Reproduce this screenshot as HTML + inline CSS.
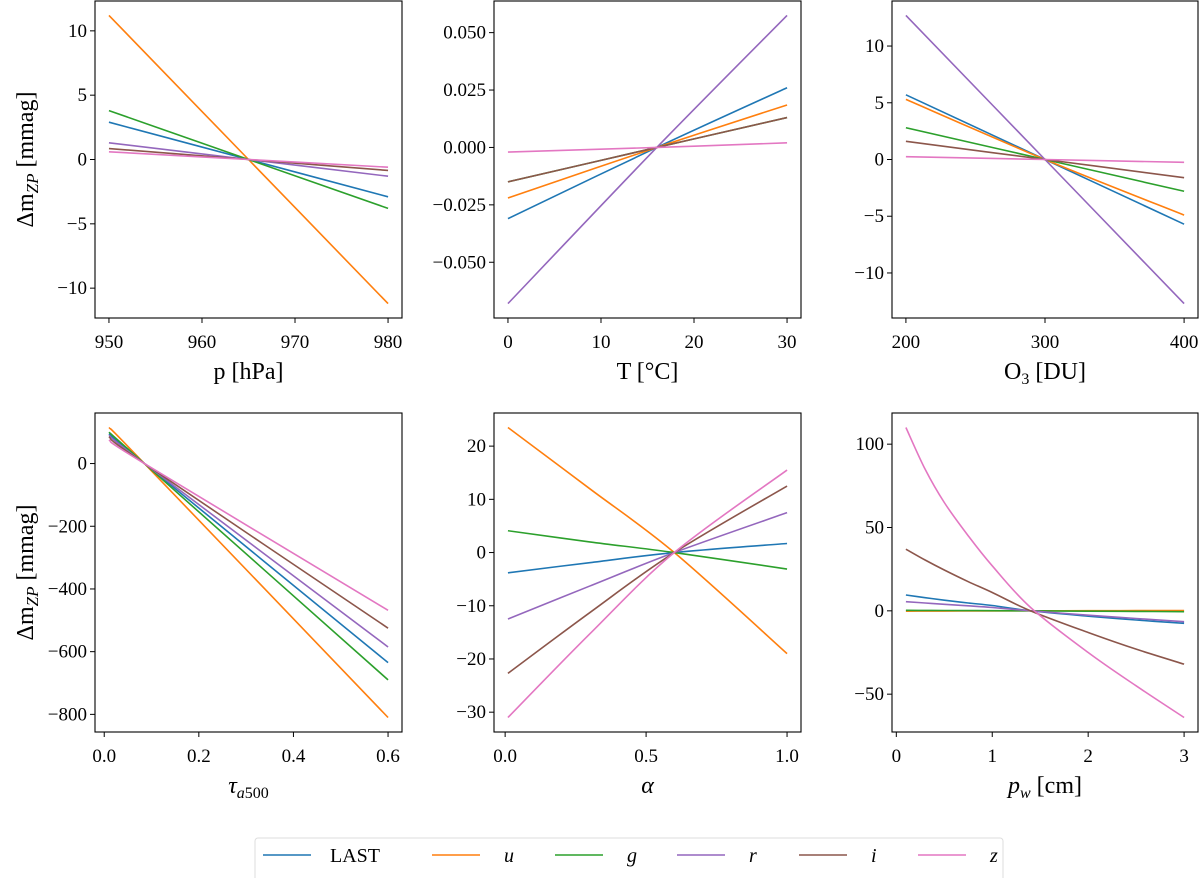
<!DOCTYPE html>
<html><head><meta charset="utf-8"><style>
html,body{margin:0;padding:0;background:#fff;}
svg{display:block;font-family:"Liberation Serif","DejaVu Serif",serif;}
</style></head><body>
<svg id="fig" width="1200" height="878" viewBox="0 0 1200 878"></svg>
<script>
// ---- data ----
const seriesNames=["LAST","u","g","r","i","z"];
const seriesColors=["#1f77b4","#ff7f0e","#2ca02c","#9467bd","#8c564b","#e377c2"];

const pressX=[950,965,980];
const pressLAST=[2.9,0,-2.9];
const pressU=[11.2,0,-11.2];
const pressG=[3.8,0,-3.8];
const pressR=[1.3,0,-1.3];
const pressI=[0.85,0,-0.85];
const pressZ=[0.6,0,-0.6];
const pressXTicks=[950,960,970,980];
const pressYTicks=[-10,-5,0,5,10];

const tempX=[0,16,30];
const tempLAST=[-0.031,0,0.026];
const tempU=[-0.022,0,0.0185];
const tempG=[-0.015,0,0.013];
const tempR=[-0.068,0,0.0575];
const tempI=[-0.015,0,0.013];
const tempZ=[-0.002,0,0.002];
const tempXTicks=[0,10,20,30];
const tempYTicks=[-0.05,-0.025,0,0.025,0.05];
const tempYLabels=["−0.050","−0.025","0.000","0.025","0.050"];

const ozoneX=[200,300,400];
const ozoneLAST=[5.7,0,-5.7];
const ozoneU=[5.3,0,-4.9];
const ozoneG=[2.8,0,-2.8];
const ozoneR=[12.7,0,-12.7];
const ozoneI=[1.6,0,-1.6];
const ozoneZ=[0.25,0,-0.25];
const ozoneXTicks=[200,300,400];
const ozoneYTicks=[-10,-5,0,5,10];

const tauX=[0.01,0.085,0.6];
const tauLAST=[95,0,-635];
const tauU=[115,0,-810];
const tauG=[100,0,-690];
const tauR=[90,0,-585];
const tauI=[85,0,-525];
const tauZ=[75,0,-468];
const tauXTicks=[0,0.2,0.4,0.6];
const tauXLabels=["0.0","0.2","0.4","0.6"];
const tauYTicks=[-800,-600,-400,-200,0];

const alphaX=[0.01,0.3,0.6,1.0];
const alphaLAST=[-3.8,-1.9,0,1.7];
const alphaU=[23.5,12.0,0,-19];
const alphaG=[4.1,2.0,0,-3.1];
const alphaR=[-12.5,-6.3,0,7.5];
const alphaI=[-22.7,-11.3,0,12.5];
const alphaZ=[-31,-15.3,0,15.5];
const alphaXTicks=[0,0.5,1.0];
const alphaXLabels=["0.0","0.5","1.0"];
const alphaYTicks=[-30,-20,-10,0,10,20];

const pwX=[0.1,0.3,0.5,0.75,1.0,1.4,2.0,2.5,3.0];
const pwLAST=[9.5,7.9,6.4,4.7,3.2,0,-3.2,-5.5,-7.5];
const pwU=[-0.2,-0.15,-0.12,-0.08,-0.05,0,0.08,0.14,0.2];
const pwG=[0.3,0.25,0.2,0.15,0.1,0,-0.2,-0.35,-0.5];
const pwR=[5.5,4.7,3.9,3.0,2.0,0,-2.6,-4.6,-6.5];
const pwI=[37,30.5,24.5,17.5,11,0,-13,-23,-32];
const pwZ=[110,85,65,45,27,2,-25,-45,-64];
const pwXTicks=[0,1,2,3];
const pwYTicks=[-50,0,50,100];

// ---- drawing ----
const NS="http://www.w3.org/2000/svg";
const svg=document.getElementById('fig');
function mk(tag,attrs,parent){const e=document.createElementNS(NS,tag);for(const k in attrs)e.setAttribute(k,attrs[k]);(parent||svg).appendChild(e);return e;}
function fmtNum(v){return (v<0?"−":"")+Math.abs(v);}
function smoothPath(pts){
  let d='M'+pts[0][0].toFixed(2)+' '+pts[0][1].toFixed(2);
  for(let i=0;i<pts.length-1;i++){
    const p0=pts[Math.max(0,i-1)],p1=pts[i],p2=pts[i+1],p3=pts[Math.min(pts.length-1,i+2)];
    const c1=[p1[0]+(p2[0]-p0[0])/6,p1[1]+(p2[1]-p0[1])/6];
    const c2=[p2[0]-(p3[0]-p1[0])/6,p2[1]-(p3[1]-p1[1])/6];
    d+=' C'+c1[0].toFixed(2)+' '+c1[1].toFixed(2)+' '+c2[0].toFixed(2)+' '+c2[1].toFixed(2)+' '+p2[0].toFixed(2)+' '+p2[1].toFixed(2);
  }
  return d;
}

function panel(cfg){
  const g=mk('g',{});
  
  
  const L=cfg.box[0],T=cfg.box[1],R=cfg.box[2],B=cfg.box[3];
  const xs=cfg.x;
  const xmin=Math.min(...xs),xmax=Math.max(...xs),xr=xmax-xmin;
  const x0=xmin-0.05*xr,x1=xmax+0.05*xr;
  let ymin=Infinity,ymax=-Infinity;
  cfg.series.forEach(s=>s.forEach(v=>{ymin=Math.min(ymin,v);ymax=Math.max(ymax,v);}));
  const yr=ymax-ymin,y0=ymin-0.05*yr,y1=ymax+0.05*yr;
  const sx=v=>L+(v-x0)/(x1-x0)*(R-L);
  const sy=v=>B-(v-y0)/(y1-y0)*(B-T);
  const clipId='clip-'+cfg.name;
  const cp=mk('clipPath',{id:clipId},g);mk('rect',{x:L,y:T,width:R-L,height:B-T},cp);
  const lines=mk('g',{'clip-path':'url(#'+clipId+')'},g);
  cfg.series.forEach((s,i)=>{
    const pts=s.map((v,j)=>[sx(xs[j]),sy(v)]);
    const p=mk('path',{d:smoothPath(pts),fill:'none',stroke:seriesColors[i],'stroke-width':1.6},lines);
    
    
  });
  const fr=mk('rect',{x:L,y:T,width:R-L,height:B-T,fill:'none',stroke:'#000','stroke-width':1.1},g);
  
  
  cfg.xticks.forEach((t,i)=>{
    const X=sx(t);
    mk('line',{x1:X,x2:X,y1:B,y2:B+5,stroke:'#000','stroke-width':1},g);
    const tx=mk('text',{x:X,y:B+30,'text-anchor':'middle','font-size':19},g);
    tx.textContent=cfg.xlabels?cfg.xlabels[i]:fmtNum(t);
    
    
  });
  cfg.yticks.forEach((t,i)=>{
    const Y=sy(t);
    mk('line',{x1:L-5,x2:L,y1:Y,y2:Y,stroke:'#000','stroke-width':1},g);
    const tx=mk('text',{x:L-8,y:Y+6,'text-anchor':'end','font-size':19},g);
    tx.textContent=cfg.ylabels?cfg.ylabels[i]:fmtNum(t);
    
    
  });
  const xl=mk('text',{x:(L+R)/2,y:B+61,'text-anchor':'middle','font-size':24},g);
  xl.innerHTML=cfg.xtitle;
  
  
  if(cfg.ytitle){
    const cy=(T+B)/2;
    const yl=mk('text',{x:33,y:cy,'text-anchor':'middle','font-size':24,transform:'rotate(-90 33 '+cy+')'},g);
    yl.innerHTML='Δm<tspan font-style="italic" font-size="17" dy="5">ZP</tspan><tspan dy="-5"> [mmag]</tspan>';
    
    
  }
}

panel({name:'panel-pressure',box:[95,1,402,318],x:pressX,series:[pressLAST,pressU,pressG,pressR,pressI,pressZ],xticks:pressXTicks,yticks:pressYTicks,xtitle:'p [hPa]',ytitle:true});
panel({name:'panel-temperature',box:[494,1,801,318],x:tempX,series:[tempLAST,tempU,tempG,tempR,tempI,tempZ],xticks:tempXTicks,yticks:tempYTicks,ylabels:tempYLabels,xtitle:'T [°C]'});
panel({name:'panel-ozone',box:[892,1,1198,318],x:ozoneX,series:[ozoneLAST,ozoneU,ozoneG,ozoneR,ozoneI,ozoneZ],xticks:ozoneXTicks,yticks:ozoneYTicks,xtitle:'O<tspan font-size="16" dy="5">3</tspan><tspan dy="-5"> [DU]</tspan>'});
panel({name:'panel-aerosol-depth',box:[95,413,402,732],x:tauX,series:[tauLAST,tauU,tauG,tauR,tauI,tauZ],xticks:tauXTicks,xlabels:tauXLabels,yticks:tauYTicks,xtitle:'<tspan font-style="italic">τ</tspan><tspan font-style="italic" font-size="16" dy="5">a</tspan><tspan font-size="16">500</tspan>',ytitle:true});
panel({name:'panel-angstrom',box:[494,413,801,732],x:alphaX,series:[alphaLAST,alphaU,alphaG,alphaR,alphaI,alphaZ],xticks:alphaXTicks,xlabels:alphaXLabels,yticks:alphaYTicks,xtitle:'<tspan font-style="italic">α</tspan>'});
panel({name:'panel-water-vapour',box:[892,413,1198,732],x:pwX,series:[pwLAST,pwU,pwG,pwR,pwI,pwZ],xticks:pwXTicks,yticks:pwYTicks,xtitle:'<tspan font-style="italic">p</tspan><tspan font-style="italic" font-size="16" dy="5">w</tspan><tspan dy="-5"> [cm]</tspan>'});

// legend
const lg=mk('g',{});


mk('rect',{x:255,y:838,width:748,height:46,rx:3,fill:'#fff',stroke:'#ddd','stroke-width':1},lg);
const legLineX=[263,432,555,677,799,918];
seriesNames.forEach((n,i)=>{
  const e=mk('g',{},lg);
  
  
  const X=legLineX[i];
  mk('line',{x1:X,x2:X+48,y1:855,y2:855,stroke:seriesColors[i],'stroke-width':1.6},e);
  const t=mk('text',{x:X+(i===0?67:72),y:862,'font-size':20},e);
  if(i>0)t.setAttribute('font-style','italic');
  t.textContent=n;
});
</script>
</body></html>
